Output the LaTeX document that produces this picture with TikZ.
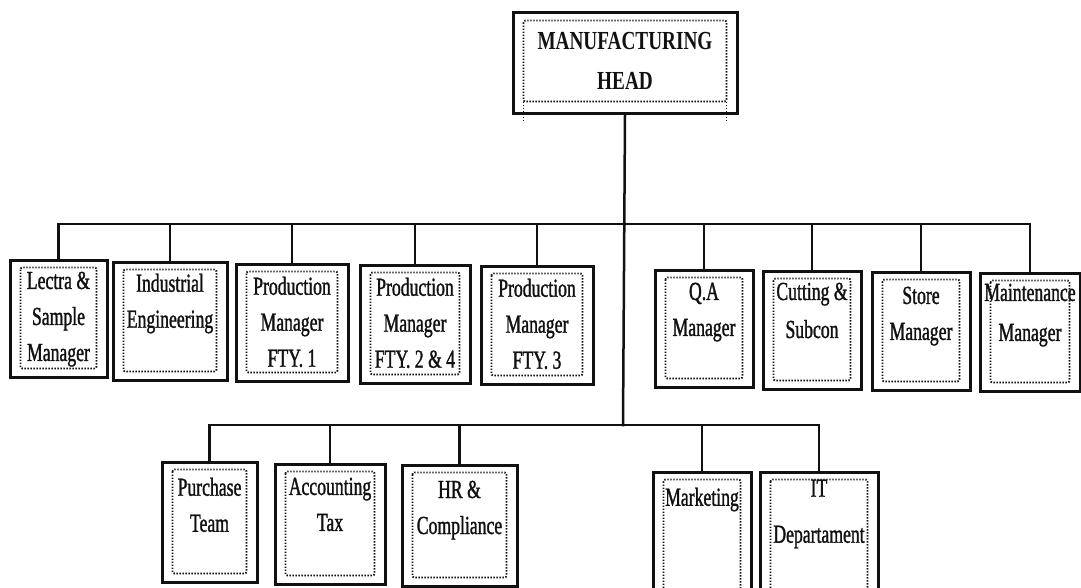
\documentclass[tikz,border=0pt]{standalone}
\usepackage{fontspec}
\setmainfont{Liberation Serif}
\newfontfamily\ocfont[FakeStretch=0.68, FakeBold=1.2]{Liberation Serif}
\newfontfamily\ocheadfont[FakeStretch=0.74]{Liberation Serif}
\usetikzlibrary{positioning}
\definecolor{ocink}{HTML}{111111}
\tikzset{
  oc box/.style={draw=ocink, line width=3pt, inner sep=0pt, fill=white},
  oc inner/.style={draw=ocink, line width=1.9pt, dash pattern=on 1.4pt off 1.6pt,
    rounded corners=2pt},
  oc link/.style={draw=ocink, line width=2.5pt, line cap=rect},
  oc label/.style={font=\ocfont\fontsize{26}{36}\selectfont, text=ocink,
    align=center, inner sep=0pt, anchor=north},
  oc head/.style={font=\ocheadfont\bfseries\fontsize{26}{40}\selectfont, text=ocink,
    align=center, inner sep=0pt}
}

\begin{document}
\begin{tikzpicture}[x=1pt, y=-1pt]
  \useasboundingbox (0,0) rectangle (1081,587);
  \clip (0,0) rectangle (1081,587);
  % head
  \node[oc box, minimum width=224pt, minimum height=101pt] (head) at (625,62.5) {};
  % upper row
  \node[oc box, minimum width=97pt, minimum height=117pt] (lectra) at (58.5,318.5) {};
  \node[oc box, minimum width=114pt, minimum height=118pt] (indeng) at (170,321) {};
  \node[oc box, minimum width=112pt, minimum height=117pt] (fty1) at (292,322.5) {};
  \node[oc box, minimum width=110pt, minimum height=118pt] (fty24) at (415,324) {};
  \node[oc box, minimum width=112pt, minimum height=118pt] (fty3) at (537,325) {};
  \node[oc box, minimum width=98pt, minimum height=117pt] (qa) at (704,328.5) {};
  \node[oc box, minimum width=98pt, minimum height=118pt] (cutting) at (812,330) {};
  \node[oc box, minimum width=98pt, minimum height=118pt] (store) at (921,331) {};
  \node[oc box, minimum width=100pt, minimum height=118pt] (maint) at (1030,332) {};
  % lower row
  \node[oc box, minimum width=95pt, minimum height=120pt] (purchase) at (209.5,522) {};
  \node[oc box, minimum width=110pt, minimum height=120pt] (account) at (330,524) {};
  \node[oc box, minimum width=115pt, minimum height=121pt] (hr) at (459.5,525.5) {};
  \node[oc box, minimum width=98pt, minimum height=130pt] (marketing) at (702,537) {};
  \node[oc box, minimum width=118pt, minimum height=130pt] (itdept) at (819,537) {};

  % dotted frames
  \foreach \b in {lectra,indeng,fty1,fty24,fty3,qa,cutting,store,maint,
                  purchase,account,hr,marketing,itdept}
    \draw[oc inner] ([shift={(12pt,-9pt)}]\b.north west)
      rectangle ([shift={(-12pt,10pt)}]\b.south east);
  \draw[oc inner] ([shift={(12pt,-10pt)}]head.north west)
    rectangle ([shift={(-12pt,13pt)}]head.south east);
  \draw[oc inner] ([shift={(12pt,13pt)}]head.south west) -- ++(0pt,-20pt);
  \draw[oc inner] ([shift={(-12pt,13pt)}]head.south east) -- ++(0pt,-20pt);

  % texts
  \node[oc head] (head-t) at ([yshift=2pt]head.center) {MANUFACTURING\\HEAD};
  \node[oc label] (lectra-t) at ([yshift=-13pt]lectra.north) {Lectra \&\\Sample\\Manager};
  \node[oc label] (indeng-t) at ([yshift=-13pt]indeng.north) {Industrial\\Engineering};
  \node[oc label] (fty1-t) at ([yshift=-14pt]fty1.north) {Production\\Manager\\FTY. 1};
  \node[oc label] (fty24-t) at ([yshift=-14pt]fty24.north) {Production\\Manager\\FTY. 2 \& 4};
  \node[oc label] (fty3-t) at ([yshift=-14pt]fty3.north) {Production\\Manager\\FTY. 3};
  \node[oc label] (qa-t) at ([yshift=-14pt]qa.north) {Q.A\\Manager};
  \node[oc label] (cutting-t) at ([yshift=-13pt]cutting.north) {Cutting \&\\[2pt]Subcon};
  \node[oc label] (store-t) at ([yshift=-16pt]store.north) {Store\\Manager};
  \node[oc label] (maint-t) at ([yshift=-12pt]maint.north) {Maintenance\\[4pt]Manager};
  \node[oc label] (purchase-t) at ([yshift=-17pt]purchase.north) {Purchase\\Team};
  \node[oc label] (account-t) at ([yshift=-15pt]account.north) {Accounting\\Tax};
  \node[oc label] (hr-t) at ([yshift=-17pt]hr.north) {HR \&\\Compliance};
  \node[oc label] (marketing-t) at ([yshift=-17pt]marketing.north) {Marketing};
  \node[oc label] (itdept-t) at ([yshift=-9pt]itdept.north) {IT\\[10pt]Departament};

  % connectors
  \coordinate (topbus) at (623,224);
  \coordinate (lowbus) at (623,425);
  \draw[oc link] (head.south) -- (lowbus);
  \draw[oc link] (lectra.north |- topbus) -- (maint.north |- topbus);
  \foreach \b in {lectra,indeng,fty1,fty24,fty3,qa,cutting,store,maint}
    \draw[oc link] (\b.north) -- (\b.north |- topbus);
  \draw[oc link] (purchase.north |- lowbus) -- (itdept.north |- lowbus);
  \foreach \b in {purchase,account,hr,marketing,itdept}
    \draw[oc link] (\b.north) -- (\b.north |- lowbus);
\end{tikzpicture}
\end{document}
